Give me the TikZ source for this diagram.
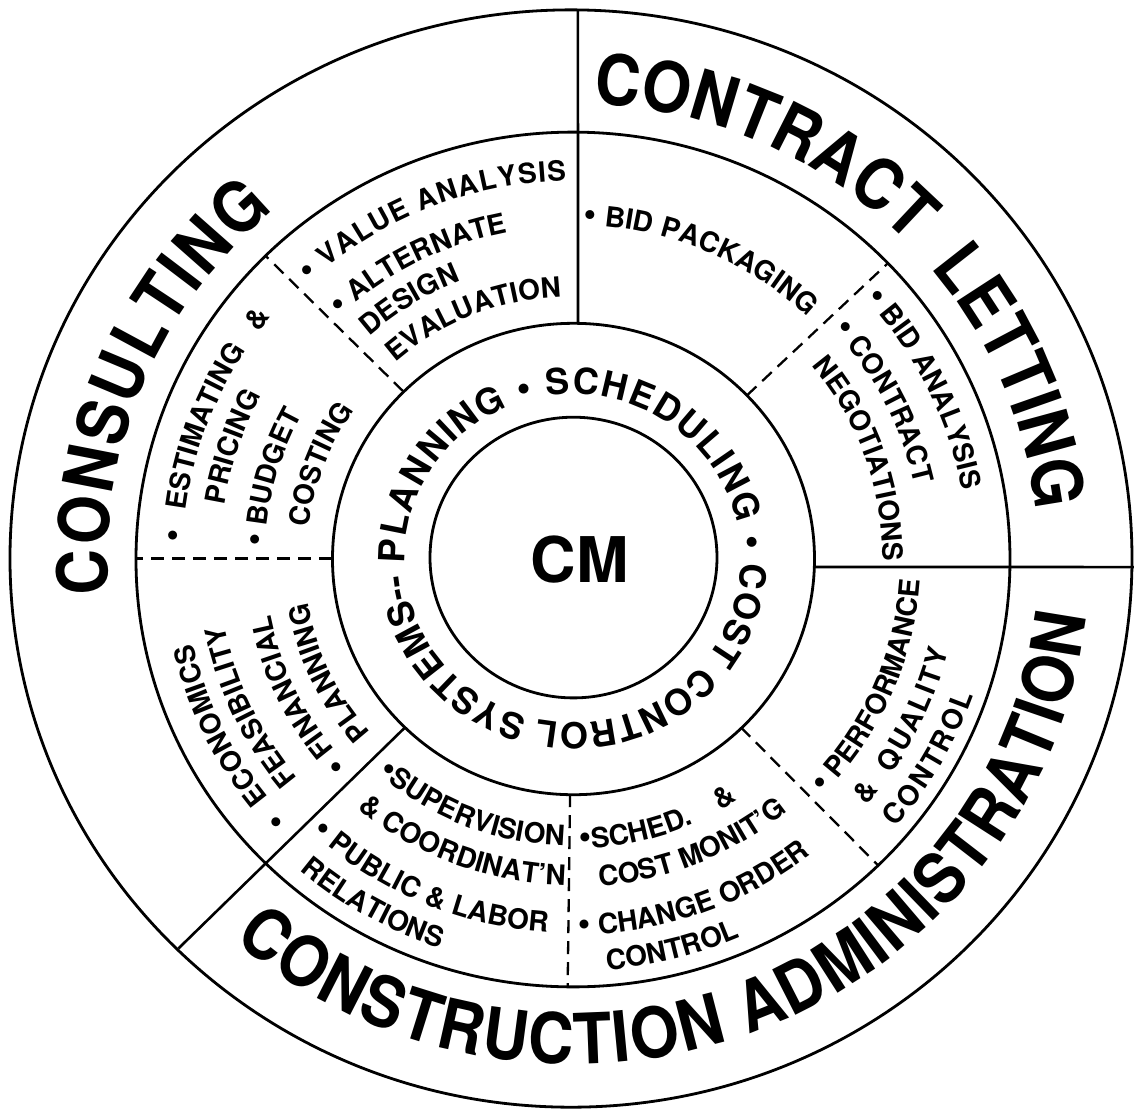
\documentclass[tikz,border=0pt]{standalone}
\usepackage{fontspec}
\setmainfont{TeX Gyre Heros}
\newfontfamily\condfont[FakeStretch=0.9]{TeX Gyre Heros}
\usetikzlibrary{decorations.text}
\newcommand\sectfont{\fontsize{28}{30}\selectfont\bfseries}
\newcommand\dotfont{\fontsize{36}{36}\selectfont\bfseries}
\newcommand\bigfont{\condfont\fontsize{70}{72}\selectfont\bfseries}
\newcommand\ringfont{\fontsize{36}{40}\selectfont\bfseries}
\newcommand\ringdot{\fontsize{40}{40}\selectfont\bfseries}
% plain line, clockwise / counter-clockwise, natural spacing: radius, start angle, text
\newcommand\cwl[3]{\path[decorate,decoration={text along path,text={|\sectfont|#3}}] ({#2}:{#1}) arc[start angle={#2},end angle={#2-75},radius=#1];}
\newcommand\ccwl[3]{\path[decorate,decoration={text along path,text={|\sectfont|#3}}] ({#2}:{#1}) arc[start angle={#2},end angle={#2+75},radius=#1];}
% bullet + space + text
\newcommand\cwb[3]{\path[decorate,decoration={text along path,text={|\dotfont|•|\sectfont| #3}}] ({#2}:{#1}) arc[start angle={#2},end angle={#2-75},radius=#1];}
\newcommand\ccwb[3]{\path[decorate,decoration={text along path,text={|\dotfont|•|\sectfont| #3}}] ({#2}:{#1}) arc[start angle={#2},end angle={#2+75},radius=#1];}
% bullet + text, no space
\newcommand\ccwbn[3]{\path[decorate,decoration={text along path,text={|\dotfont|•|\sectfont|#3}}] ({#2}:{#1}) arc[start angle={#2},end angle={#2+75},radius=#1];}
% lone bullet
\newcommand\cwdot[2]{\path[decorate,decoration={text along path,text={|\dotfont|•}}] ({#2}:{#1}) arc[start angle={#2},end angle={#2-20},radius=#1];}
% fitted lines: radius, start, end, text
\newcommand\fitl[4]{\path[decorate,decoration={text along path,text={|\sectfont|#4},text align={fit to path}}] ({#2}:{#1}) arc[start angle={#2},end angle={#3},radius=#1];}
\newcommand\fitb[4]{\path[decorate,decoration={text along path,text={|\dotfont|•|\sectfont| #4},text align={fit to path}}] ({#2}:{#1}) arc[start angle={#2},end angle={#3},radius=#1];}
% ampersand as a rotated node: name, baseline radius, centre angle
\newcommand\cwamp[3]{\node[font=\sectfont,inner sep=0pt,anchor=base,rotate=#3-90] (#1) at ({#3}:{#2}) {\&};}
\newcommand\ccwamp[3]{\node[font=\sectfont,inner sep=0pt,anchor=base,rotate=#3+90] (#1) at ({#3}:{#2}) {\&};}
\tikzset{
  ringline/.style={line width=2.8pt},
  solidline/.style={line width=2.6pt},
  dashline/.style={line width=2.3pt,dash pattern=on 13pt off 8pt},
}
\begin{document}
\begin{tikzpicture}[x=1pt,y=0.978pt]
\useasboundingbox (-573,-564.9) rectangle (562,571.1);
\fill[white] (-573,-564.9) rectangle (562,571.1);
% circles
\draw[ringline] (-2,0) circle[radius=561];
\draw[ringline] (0,-1) circle[radius=437];
\draw[ringline] (0.5,-0.5) circle[radius=241];
\draw[ringline] (0.5,1) circle[radius=143.5];
% solid dividers
\draw[solidline] (88.8:241) -- (89.5:561);
\draw[solidline] (-2.07:241) -- (-0.89:561);
\draw[solidline] (225.8:241) -- (225.3:561);
% dashed dividers
\draw[dashline] (134.8:241) -- (134.8:437);
\draw[dashline] (180:241) -- (180:437);
\draw[dashline] (43.8:241) -- (43.8:437);
\draw[dashline] (-45.8:241) -- (-45.8:437);
\draw[dashline] (-90.7:241) -- (-90.7:437);
% centre
\node[font=\fontsize{63}{65}\selectfont\bfseries,inner sep=0pt] (cm) at (6.5,-1.5) {CM};
% middle ring text
\path[decorate,decoration={text along path,text={|\ringfont|PLANNING |\ringdot|•|\ringfont| SCHEDULING |\ringdot|•},text align={fit to path}}] (181.6:168) arc[start angle=181.6,end angle=2.9,radius=168];
\path[decorate,decoration={text along path,text={|\ringfont|COST CONTROL SYSTEMS--},text align={fit to path}}] (-1.5:168) arc[start angle=-1.5,end angle=-174.4,radius=168];
% outer ring texts
\path[decorate,decoration={text along path,text={|\bigfont|CONSULTING},text align={fit to path}}] (184.5:465) arc[start angle=184.5,end angle=130,radius=465];
\path[decorate,decoration={text along path,text={|\bigfont|CONTRACT LETTING},text align={fit to path stretching spaces}}] (87.5:465) arc[start angle=87.5,end angle=6,radius=465];
\path[decorate,decoration={text along path,text={|\bigfont|CONSTRUCTION ADMINISTRATION},text align={fit to path}}] (229:517) arc[start angle=229,end angle=353.5,radius=517];
% sector 1
\fitb{386}{133}{91}{VALUE ANALYSIS}
\cwb{340}{133.2}{ALTERNATE}
\cwl{305}{131.9}{DESIGN}
\cwl{268}{131.5}{EVALUATION}
% sector 2
\cwb{341}{88.2}{BID PACKAGING}
% sector 3
\cwb{395}{42.3}{BID ANALYSIS}
\cwb{350}{42}{CONTRACT}
\cwl{310}{39.6}{NEGOTIATIONS}
% sector 7
\cwdot{390}{223.2}
\cwl{390}{218.7}{ECONOMICS}
\cwl{355}{219.2}{FEASIBILITY}
\cwb{308}{223.2}{FINANCIAL}
\cwl{269}{221.3}{PLANNING}
% sector 8
\cwdot{390}{177.6}
\cwl{390}{172.8}{ESTIMATING}
\cwamp{amp1}{390}{142.2}
\cwl{353}{171.1}{PRICING}
\cwb{308}{177.8}{BUDGET}
\cwl{266}{173.2}{COSTING}
% sector 4
\fitb{348}{-44}{-3.6}{PERFORMANCE}
\ccwamp{amp2}{387}{-39.2}
\fitl{387}{-34.7}{-14.1}{QUALITY}
\fitl{424}{-40.45}{-19.3}{CONTROL}
% sector 5
\ccwbn{297}{-88.8}{SCHED.}
\ccwamp{amp3}{297}{-58.3}
\ccwl{336}{-85.5}{COST MONIT'G}
\ccwb{385}{-89.2}{CHANGE ORDER}
\ccwl{422}{-85.4}{CONTROL}
% sector 6
\ccwbn{294}{228.4}{SUPERVISION}
\ccwamp{amp4}{334}{231.6}
\ccwl{334}{234.7}{COORDINAT'N}
\ccwb{383}{227.0}{PUBLIC}
\ccwamp{amp5}{383}{248.6}
\ccwl{383}{251.3}{LABOR}
\ccwl{420}{229.4}{RELATIONS}
\end{tikzpicture}
\end{document}
